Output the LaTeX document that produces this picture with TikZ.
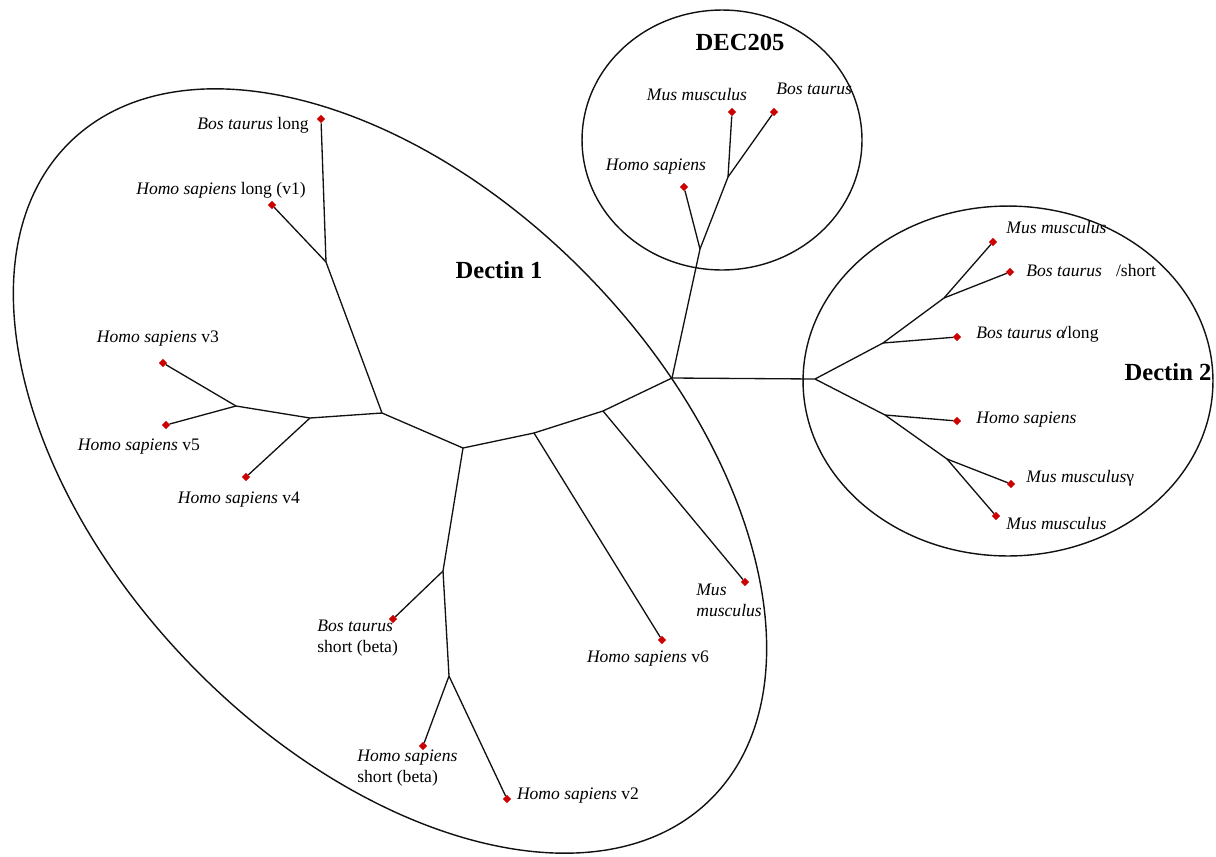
\documentclass[tikz,border=0pt]{standalone}
\usepackage{fontspec}
\setmainfont{Liberation Serif}
\usetikzlibrary{shapes.geometric}
\definecolor{ink}{HTML}{111111}
\definecolor{leafred}{HTML}{CC0000}

\begin{document}
\begin{tikzpicture}[x=0.02cm, y=-0.02cm,
      leaf/.style={diamond, fill=leafred, inner sep=0pt, minimum size=0.17cm},
      lab/.style={inner sep=0pt, font=\fontsize{10}{12}\selectfont, align=left},
      title/.style={inner sep=0pt, font=\bfseries\fontsize{14}{16}\selectfont},
      branch/.style={ink, line width=0.75pt},
      ring/.style={ink, line width=0.8pt}]
    \useasboundingbox (0,0) rectangle (1216,856);
    % groups
    \draw[ring, rotate around={-45.9:(390,471)}] (390,471) ellipse [x radius=9.18cm, y radius=5.56cm];
    \draw[ring] (722,140) ellipse [x radius=2.8cm, y radius=2.6cm];
    \draw[ring] (1008,381) ellipse [x radius=4.1cm, y radius=3.5cm];
    \node[title] (dec)  at (740,42)   {DEC205};
    \node[title] (dc1)  at (499,270)  {Dectin 1};
    \node[title] (dc2)  at (1168,372) {Dectin 2};
    % inner nodes of the tree
    \coordinate (hub) at (672,378);
    \coordinate (dA) at (700,249);  \coordinate (dB) at (728,177);
    \coordinate (tA) at (815,379);  \coordinate (tB) at (883,343);  \coordinate (tC) at (944,298);
    \coordinate (tD) at (885,415);  \coordinate (tE) at (947,459);
    \coordinate (oA) at (603,411);  \coordinate (oB) at (534,433);  \coordinate (oC) at (463,448);
    \coordinate (oD) at (382,413);  \coordinate (oE) at (326,262);  \coordinate (oF) at (310,418);
    \coordinate (oG) at (236,406);  \coordinate (oH) at (443,571);  \coordinate (oI) at (449,676);
    % leaves, DEC205
    \node[leaf] (dMm) at (732,112) {};
    \node[leaf] (dBt) at (774,112) {};
    \node[leaf] (dHs) at (684,187) {};
    % leaves, Dectin 2
    \node[leaf] (tMm) at (993,242) {};
    \node[leaf] (tBs) at (1010,272) {};
    \node[leaf] (tBl) at (957,337) {};
    \node[leaf] (tHs) at (957,421) {};
    \node[leaf] (tMg) at (1011,484) {};
    \node[leaf] (tMb) at (996,516) {};
    % leaves, Dectin 1
    \node[leaf] (oMm) at (745,582) {};
    \node[leaf] (oV6) at (662,640) {};
    \node[leaf] (oBl) at (321,119) {};
    \node[leaf] (oV1) at (272,205) {};
    \node[leaf] (oV3) at (163,363) {};
    \node[leaf] (oV5) at (166,425) {};
    \node[leaf] (oV4) at (246,477) {};
    \node[leaf] (oBs) at (393,619) {};
    \node[leaf] (oHs) at (423,746) {};
    \node[leaf] (oV2) at (507,799) {};
    % labels
    \node[lab]             at (697,95)  {\textit{Mus musculus}};
    \node[lab, anchor=west] at (776,89)  {\textit{Bos taurus}};
    \node[lab]             at (656,167) {\textit{Homo sapiens}};
    \node[lab, anchor=west] at (1006,228) {\textit{Mus musculus}};
    \node[lab, anchor=west] at (1026,270) {\textit{Bos taurus}\hspace{8pt}/short};
    \node[lab, anchor=west] at (976,334)  {\textit{Bos taurus α}\kern-2pt/long};
    \node[lab, anchor=west] at (976,420)  {\textit{Homo sapiens}};
    \node[lab, anchor=west] at (1026,478) {\textit{Mus musculus}γ};
    \node[lab, anchor=west] at (1006,523) {\textit{Mus musculus}};
    \node[lab]             at (253,125) {\textit{Bos taurus} long};
    \node[lab]             at (221,190) {\textit{Homo sapiens} long (v1)};
    \node[lab]             at (158,339) {\textit{Homo sapiens} v3};
    \node[lab]             at (139,447) {\textit{Homo sapiens} v5};
    \node[lab]             at (239,500) {\textit{Homo sapiens} v4};
    \node[lab, anchor=west] at (317,638) {\textit{Bos taurus}\\short (beta)};
    \node[lab, anchor=west] at (357,768) {\textit{Homo sapiens}\\short (beta)};
    \node[lab]             at (578,796) {\textit{Homo sapiens} v2};
    \node[lab]             at (648,659) {\textit{Homo sapiens} v6};
    \node[lab, anchor=west] at (696,600) {\textit{Mus}\\\textit{musculus}};
    % branches
    \draw[branch] (hub)--(dA)--(dB)--(dMm); \draw[branch] (dB)--(dBt); \draw[branch] (dA)--(dHs);
    \draw[branch] (hub)--(tA)--(tB)--(tC)--(tMm); \draw[branch] (tC)--(tBs); \draw[branch] (tB)--(tBl);
    \draw[branch] (tA)--(tD)--(tE)--(tMb); \draw[branch] (tD)--(tHs); \draw[branch] (tE)--(tMg);
    \draw[branch] (hub)--(oA)--(oB)--(oC)--(oD)--(oE)--(oBl); \draw[branch] (oA)--(oMm);
    \draw[branch] (oB)--(oV6); \draw[branch] (oE)--(oV1);
    \draw[branch] (oD)--(oF)--(oG)--(oV3); \draw[branch] (oG)--(oV5); \draw[branch] (oF)--(oV4);
    \draw[branch] (oC)--(oH)--(oI)--(oV2); \draw[branch] (oH)--(oBs); \draw[branch] (oI)--(oHs);
\end{tikzpicture}
\end{document}
